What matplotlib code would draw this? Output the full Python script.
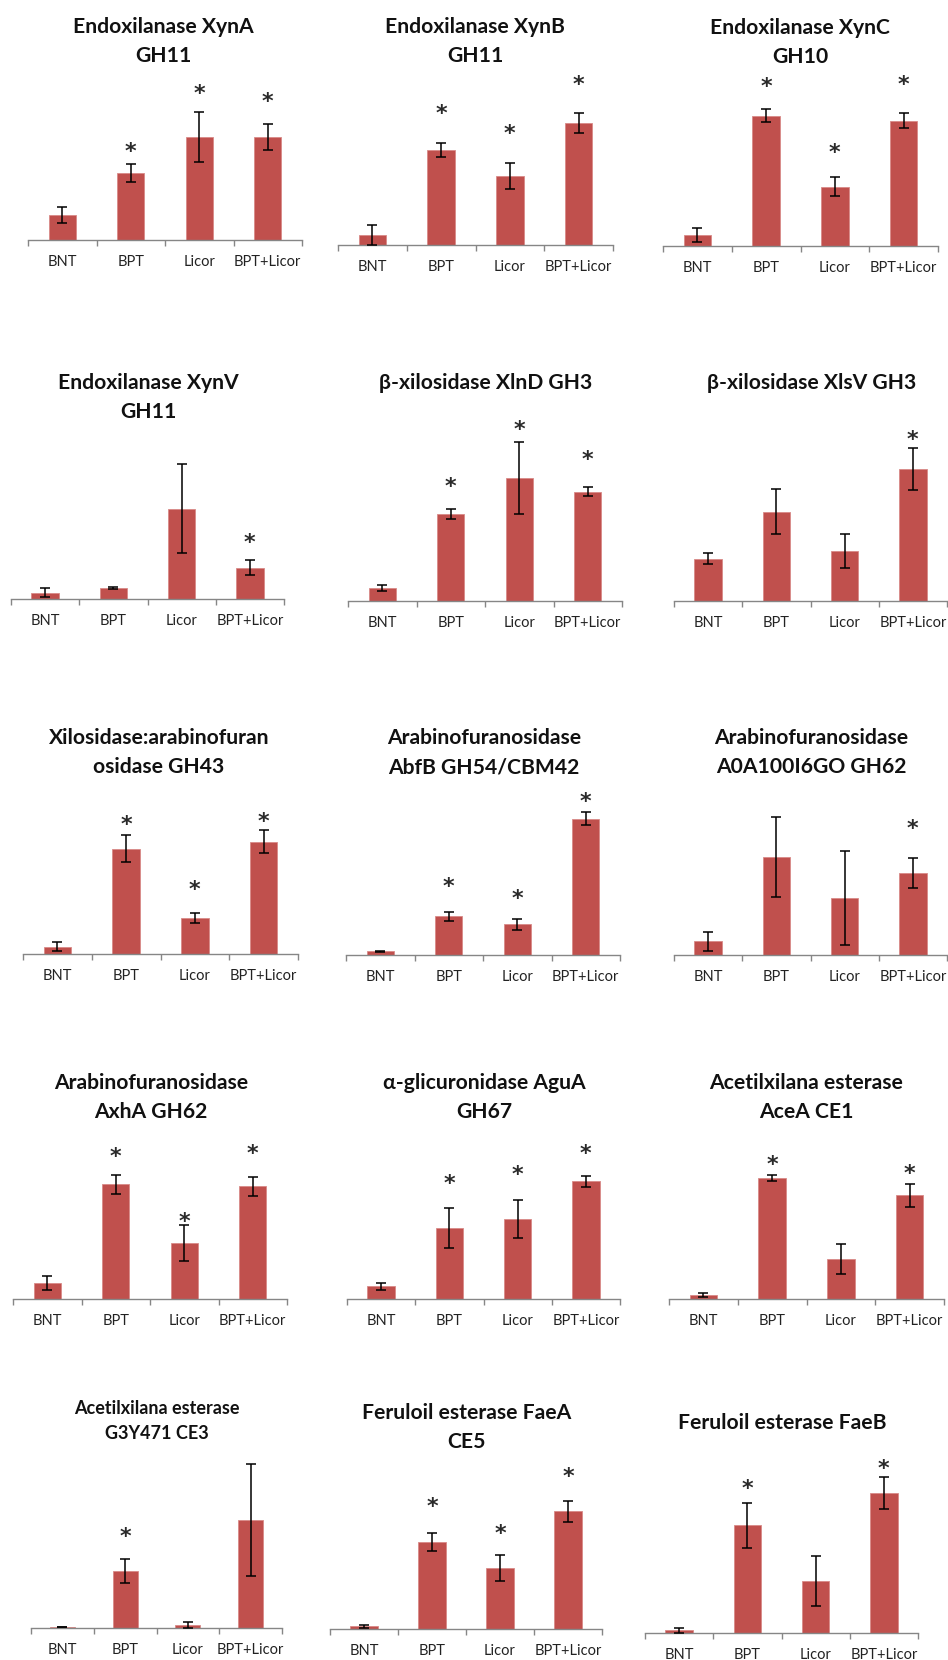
import numpy as np
import matplotlib
matplotlib.use('Agg')
import matplotlib.pyplot as plt

plt.rcParams['font.family'] = ['Lato', 'DejaVu Sans']

# Relative expression for each enzyme (arbitrary units), mean and error per condition.

categories = ['BNT', 'BPT', 'Licor', 'BPT+Licor']

titles = [
    'Endoxilanase XynA\nGH11',
    'Endoxilanase XynB\nGH11',
    'Endoxilanase XynC\nGH10',
    'Endoxilanase XynV\nGH11',
    'β-xilosidase XlnD GH3',
    'β-xilosidase XlsV GH3',
    'Xilosidase:arabinofuran\nosidase GH43',
    'Arabinofuranosidase\nAbfB GH54/CBM42',
    'Arabinofuranosidase\nA0A100I6GO GH62',
    'Arabinofuranosidase\nAxhA GH62',
    'α-glicuronidase AguA\nGH67',
    'Acetilxilana esterase\nAceA CE1',
    'Acetilxilana esterase\nG3Y471 CE3',
    'Feruloil esterase FaeA\nCE5',
    'Feruloil esterase FaeB',
]

means = [
    [25, 67, 103, 103],
    [10, 95, 69, 122],
    [11, 130, 59, 125],
    [6, 11, 90, 31],
    [13, 87, 123, 109],
    [42, 89, 50, 132],
    [7, 105, 36, 112],
    [4, 39, 31, 136],
    [14, 98, 57, 82],
    [16, 115, 56, 113],
    [13, 71, 80, 118],
    [4, 121, 40, 104],
    [1, 57, 3, 108],
    [3, 87, 61, 118],
    [3, 108, 52, 140],
]

errors = [
    [8, 9, 25, 13],
    [9.5, 7, 13, 10],
    [7, 6.5, 9.5, 7.5],
    [4.5, 0.7, 44.5, 7.5],
    [3, 5, 36, 4.5],
    [5.5, 22.5, 17, 21],
    [4.5, 13.5, 5, 11.5],
    [0.5, 4.5, 5.5, 6.5],
    [9.5, 40, 47, 14.5],
    [7, 9.5, 18, 9.5],
    [3.5, 20, 19, 5.5],
    [2, 3, 15, 11.5],
    [0.3, 12, 3, 56],
    [1.5, 9, 13, 10.5],
    [2.5, 22.5, 25, 16],
]

# Height of the significance mark for each bar (None = not significant)
star_levels = [
    [None, 95, 153, 145],
    [None, 138, 118, 167],
    [None, 166, 100, 168],
    [None, None, None, 63],
    [None, 121, 178, 148],
    [None, None, None, 168],
    [None, 136, 71, 139],
    [None, 75, 63, 160],
    [None, None, None, 133],
    [None, 149, 84, 152],
    [None, 122, 131, 152],
    [None, 141, None, 132],
    [None, 98, None, None],
    [None, 129, 102, 159],
    [None, 151, None, 171],
]

# Panel placement in pixels: axis left, axis right, baseline y, title centre x, first title line y
W, H = 948, 1660
layout = [
    (28, 302, 240, 163, 27),
    (338, 613, 245, 475, 27),
    (663, 938, 246, 800, 28),
    (11, 284, 599, 148, 383),
    (348, 622, 601, 486, 383),
    (674, 947, 601, 812, 383),
    (23, 298, 954, 159, 738),
    (346, 620, 955, 484, 738),
    (674, 947, 955, 811, 738),
    (13, 287, 1299, 151, 1083),
    (347, 620, 1299, 484, 1083),
    (669, 944, 1299, 806, 1083),
    (31, 282, 1628, 157, 1408),
    (330, 602, 1629, 467, 1413),
    (645, 918, 1633, 782, 1423),
]

bar_color = '#C0504D'
axis_color = '#868686'
top = 185

fig = plt.figure(figsize=(W / 100, H / 100), dpi=100)
fig.patch.set_facecolor('white')

for k in range(len(titles)):
    x0, x1, base, tx, ty = layout[k]
    ax = fig.add_axes([x0 / W, 1 - base / H, (x1 - x0) / W, top / H])
    x = np.arange(len(categories))
    ax.bar(x, means[k], width=0.4, color=bar_color, edgecolor='#D88A88', linewidth=0.6, zorder=2)
    ax.errorbar(x, means[k], yerr=errors[k], fmt='none', ecolor='black',
                elinewidth=1.1, capsize=3.5, capthick=1.1, zorder=3)
    # asterisks: shift down so the glyph itself is centred on the level
    for i, s in enumerate(star_levels[k]):
        if s is not None:
            ax.annotate('*', (i, s), xytext=(0, -9.5), textcoords='offset points',
                        ha='center', va='baseline', fontsize=16, fontweight='bold',
                        family='DejaVu Sans', color='#2a2a2a')

    ax.set_xlim(-0.5, 3.5)
    ax.set_ylim(0, top)
    ax.set_yticks([])
    for side in ['left', 'right', 'top']:
        ax.spines[side].set_visible(False)
    ax.spines['bottom'].set_color(axis_color)
    ax.spines['bottom'].set_linewidth(1.0)
    ax.set_xticks(x)
    ax.set_xticklabels(categories, fontsize=10.5, color='#222222')
    ax.set_xticks(np.arange(-0.5, 4, 1.0), minor=True)
    ax.tick_params(axis='x', which='major', length=0, pad=10.5)
    ax.tick_params(axis='x', which='minor', length=4, color=axis_color, width=1.0, direction='out')
    ax.patch.set_alpha(0)

    # Titles are drawn one line at a time
    small = (k == 12)
    fs = 13.0 if small else 15.2
    step = 25 if small else 29
    for j, line in enumerate(titles[k].split('\n')):
        fig.text(tx / W, 1 - (ty + j * step) / H, line, ha='center', va='center',
                 fontsize=fs, fontweight='bold', color='#111111')

fig.savefig('out.png', dpi=100, facecolor='white')
